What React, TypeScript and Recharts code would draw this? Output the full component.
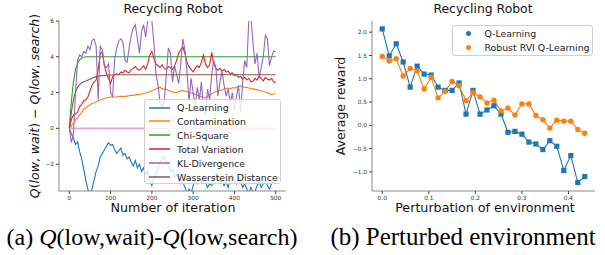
import { Line, LineChart, XAxis, YAxis } from "recharts";

// ---- (a) Q(low,wait) - Q(low,search) over iterations ----
const iterations = [
  0, 5, 10, 15, 20, 25, 30, 35, 40, 45,
  50, 55, 60, 65, 70, 75, 80, 85, 90, 95,
  100, 105, 110, 115, 120, 125, 130, 135, 140, 145,
  150, 155, 160, 165, 170, 175, 180, 185, 190, 195,
  200, 205, 210, 215, 220, 225, 230, 235, 240, 245,
  250, 255, 260, 265, 270, 275, 280, 285, 290, 295,
  300, 305, 310, 315, 320, 325, 330, 335, 340, 345,
  350, 355, 360, 365, 370, 375, 380, 385, 390, 395,
  400, 405, 410, 415, 420, 425, 430, 435, 440, 445,
  450, 455, 460, 465, 470, 475, 480, 485, 490, 495,
  500,
];

const qLearning = [
  0, -0.3, -0.55, -0.9, -0.75, -1.3, -1.7, -2.3, -2.9, -3.4,
  -3.7, -3.4, -2.9, -2.4, -2.1, -1.6, -1.4, -1.2, -1.0, -0.8,
  -0.95, -0.9, -1.2, -1.4, -1.25, -1.1, -1.5, -1.4, -1.7, -1.6,
  -1.9, -2.1, -1.8, -2.2, -2.0, -2.4, -2.2, -2.6, -2.4, -2.9,
  -3.2, -2.8, -2.5, -2.2, -1.9, -1.7, -1.6, -1.9, -2.1, -2.4,
  -2.3, -2.7, -2.6, -2.9, -3.1, -3.0, -3.3, -3.6, -3.4, -3.6,
  -3.2, -2.9, -3.1, -2.8, -3.0, -2.7, -3.0, -3.3, -3.1, -3.2,
  -2.9, -2.6, -2.8, -3.0, -2.9, -3.2, -3.0, -3.3, -2.8, -2.6,
  -2.9, -3.1, -2.7, -3.0, -3.3, -3.1, -3.4, -3.6, -3.3, -3.6,
  -3.5, -3.2, -3.0, -3.3, -3.1, -2.9, -3.2, -3.4, -3.1, -3.0,
  -3.1,
];

const contamination = [
  0, 0.15, 0.3, 0.45, 0.6, 0.75, 0.9, 1.1, 1.15, 1.25,
  1.3, 1.4, 1.42, 1.48, 1.55, 1.58, 1.62, 1.68, 1.7, 1.72,
  1.75, 1.76, 1.74, 1.77, 1.78, 1.8, 1.78, 1.79, 1.8, 1.83,
  1.85, 1.84, 1.87, 1.9, 1.88, 1.92, 1.95, 1.98, 2.0, 2.05,
  2.1, 2.15, 2.2, 2.25, 2.3, 2.22, 2.18, 2.2, 2.12, 2.08,
  2.05, 2.0, 2.02, 2.06, 2.1, 2.12, 2.08, 2.05, 2.0, 1.98,
  1.95, 1.9, 1.85, 1.8, 1.78, 1.72, 1.7, 1.78, 1.85, 1.95,
  2.0, 2.05, 2.1, 2.12, 2.15, 2.2, 2.22, 2.25, 2.2, 2.28,
  2.25, 2.3, 2.35, 2.38, 2.32, 2.28, 2.3, 2.25, 2.2, 2.22,
  2.18, 2.15, 2.12, 2.1, 2.05, 2.02, 2.0, 1.95, 1.88, 1.92,
  1.95,
];

const totalVariation = [
  0, 0.5, 0.75, 0.8, 0.9, 1.2, 1.35, 1.55, 1.6, 1.75,
  2.1, 2.4, 2.6, 2.7, 3.3, 4.2, 4.25, 3.5, 3.05, 2.8,
  2.5, 2.9, 3.0, 3.05, 3.0, 3.15, 3.1, 3.25, 3.15, 3.1,
  3.3, 3.35, 3.45, 3.3, 3.25, 3.35, 3.5, 3.3, 3.6, 4.1,
  4.3, 3.9, 3.6, 3.5, 3.4, 3.55, 3.35, 3.3, 3.45, 3.4,
  3.3, 3.5, 3.8, 4.2, 4.4, 4.55, 4.2, 3.7, 3.45, 3.3,
  3.15, 3.35, 3.5, 3.4, 3.7, 4.1, 3.6, 3.4, 3.55, 4.25,
  3.6, 3.35, 3.25, 3.35, 3.2, 3.3, 3.15, 3.2, 3.05, 3.1,
  2.95, 3.0, 2.85, 2.9, 2.75, 2.85, 2.7, 2.8, 2.6, 2.65,
  2.8, 2.7, 2.9, 2.8, 2.65, 2.85, 2.75, 2.7, 2.8, 2.6,
  2.55,
];

const klDivergence = [
  0, -0.8, -0.3, 2.0, 3.8, 4.1, 4.0, 4.3, 4.2, 4.6,
  4.4, 4.9, 5.0, 4.6, 1.6, 4.6, 4.4, 3.5, 3.4, 3.6,
  2.0, 1.8, 3.9, 4.5, 4.9, 5.0, 4.8, 3.8, 3.7, 4.5,
  5.2, 5.6, 5.8, 5.0, 4.2, 5.4, 5.8, 5.1, 6.0, 6.2,
  6.0, 4.8, 3.0, 2.4, 1.4, 1.2, 1.5, 3.0, 4.5, 4.2,
  2.6, 3.5, 3.0, 2.5, 3.6, 5.0, 4.4, 3.2, 1.5, 2.8,
  2.0, 1.2, 2.3, 1.6, 2.6, 1.0, 0.8, 2.2, 1.6, 3.0,
  3.8, 3.4, 1.8, 2.6, 3.2, 2.4, 1.8, 2.2, 1.4, 2.0,
  1.0, 1.8, 2.4, 0.9, 2.6, 3.8, 3.4, 6.2, 6.2, 4.8,
  3.6, 4.2, 2.8, 3.4, 4.0, 5.2, 5.0, 3.5, 4.0, 4.3,
  4.3,
];

// smooth curves, read at fewer iterations
const chiIterations = [0, 5, 10, 15, 20, 25, 30, 35, 40, 500];
const chiSquare = [0, 1.5, 2.6, 3.3, 3.65, 3.83, 3.92, 3.97, 4.0, 4.0];

const wassIterations = [0, 5, 10, 15, 20, 25, 30, 35, 40, 50, 60, 70, 80, 90, 100, 120, 500];
const wasserstein = [0, 0.9, 1.6, 2.05, 2.3, 2.45, 2.55, 2.6, 2.65, 2.75, 2.85, 2.92, 2.95, 2.97, 2.98, 3.0, 3.0];

const baselineIterations = [0, 500];
const baseline = [0, 0];

const iterTicks = [0, 100, 200, 300, 400, 500];
const diffTicks = [-2, 0, 2, 4, 6];

// ---- (b) perturbed environment ----
const perturbation = [
  0, 0.015, 0.03, 0.045, 0.06, 0.075, 0.09, 0.105, 0.12, 0.135,
  0.15, 0.165, 0.18, 0.195, 0.21, 0.225, 0.24, 0.255, 0.27, 0.285,
  0.3, 0.315, 0.33, 0.345, 0.36, 0.375, 0.39, 0.405, 0.42, 0.435,
];
const qReward = [
  2.07, 1.49, 1.75, 1.36, 0.82, 1.27, 1.1, 1.08, 0.82, 0.75,
  0.75, 0.91, 0.24, 0.75, 0.24, 0.33, 0.42, 0.24, -0.15, -0.13,
  -0.19, -0.36, -0.4, -0.52, -0.33, -0.45, -0.97, -0.65, -1.23, -1.1,
];
const robustReward = [
  1.48, 1.38, 1.43, 1.06, 1.22, 1.17, 0.78, 1.03, 0.59, 0.73,
  0.94, 0.85, 0.53, 0.7, 0.61, 0.48, 0.54, 0.31, 0.37, 0.22,
  0.46, 0.46, 0.21, 0.12, -0.06, 0.11, 0.09, 0.09, -0.09, -0.17,
];
const perturbTicks = [0, 0.1, 0.2, 0.3, 0.4];
const rewardTicks = [-1, -0.5, 0, 0.5, 1, 1.5, 2];

const FONT = "'DejaVu Sans', sans-serif";
const SERIF = "'Liberation Serif', serif";
const SPINE = "#8a8a8a";
const TICK_STYLE = { fontSize: 5.8, fill: "#333", fontFamily: FONT };

const toPoints = (xs: number[], ys: number[]) => xs.map((x, i) => ({ x, y: ys[i] }));

const leftSeries = [
  { name: "Q-Learning", color: "#1f77b4", data: toPoints(iterations, qLearning) },
  { name: "Contamination", color: "#ff7f0e", data: toPoints(iterations, contamination) },
  { name: "Chi-Square", color: "#2ca02c", data: toPoints(chiIterations, chiSquare) },
  { name: "Total Variation", color: "#d62728", data: toPoints(iterations, totalVariation) },
  { name: "KL-Divergence", color: "#9467bd", data: toPoints(iterations, klDivergence) },
  { name: "Wasserstein Distance", color: "#8c564b", data: toPoints(wassIterations, wasserstein) },
];

const rightSeries = [
  { name: "Q-Learning", color: "#1f77b4" },
  { name: "Robust RVI Q-Learning", color: "#ff7f0e" },
];

const rewardData = perturbation.map((p, i) => ({ p, q: qReward[i], robust: robustReward[i] }));

const minus = (s: string) => s.replace("-", "\u2212");

function SquareDot(props: { cx?: number; cy?: number; index?: number }) {
  const { cx, cy, index } = props;
  if (cx == null || cy == null) return null;
  return <rect key={`sq-${index}`} x={cx - 2.6} y={cy - 2.6} width={5.2} height={5.2} fill="#1f77b4" />;
}

function RoundDot(props: { cx?: number; cy?: number; index?: number }) {
  const { cx, cy, index } = props;
  if (cx == null || cy == null) return null;
  return <circle key={`ci-${index}`} cx={cx} cy={cy} r={2.7} fill="#ff7f0e" />;
}

// full matplotlib-style box: extra top / right axes with only a spine
function BoxAxes() {
  return [
    <XAxis key="top" xAxisId="top" orientation="top" type="number" domain={[0, 1]} height={0}
      tick={false} tickLine={false} axisLine={{ stroke: SPINE }} />,
    <YAxis key="right" yAxisId="right" orientation="right" type="number" domain={[0, 1]} width={0}
      tick={false} tickLine={false} axisLine={{ stroke: SPINE }} />,
  ];
}

const textStyle = (extra: object) => ({
  position: "absolute" as const,
  fontFamily: FONT,
  color: "#111",
  whiteSpace: "nowrap" as const,
  lineHeight: 1,
  ...extra,
});

const legendBox = {
  position: "absolute" as const,
  background: "rgba(255,255,255,0.8)",
  border: "1px solid #d0d0d0",
  borderRadius: 3,
  boxSizing: "border-box" as const,
};

export default function App() {
  return (
    <div style={{ position: "absolute", left: 0, top: 0, width: 605, height: 255, background: "#fff", overflow: "hidden" }}>
      {/* left panel */}
      <div style={{ position: "absolute", left: 0, top: 0 }}>
        <LineChart width={300} height={220} margin={{ top: 21, right: 14, bottom: 0, left: 0 }}>
          <XAxis dataKey="x" type="number" domain={[-25, 525]} ticks={iterTicks} allowDataOverflow
            height={29} tickSize={3} tickMargin={2} tick={TICK_STYLE}
            axisLine={{ stroke: SPINE }} tickLine={{ stroke: "#444" }} />
          <YAxis type="number" domain={[-3.5, 6]} ticks={diffTicks} allowDataOverflow width={59}
            tickSize={3} tickMargin={2} tick={TICK_STYLE} tickFormatter={(v: number) => minus(String(v))}
            axisLine={{ stroke: SPINE }} tickLine={{ stroke: "#444" }} />
          {BoxAxes()}
          {leftSeries.map((s) => (
            <Line key={s.name} data={s.data} dataKey="y" type="linear" stroke={s.color} strokeWidth={1.1}
              dot={false} isAnimationActive={false} />
          ))}
          <Line data={toPoints(baselineIterations, baseline)} dataKey="y" type="linear" stroke="#e377c2"
            strokeOpacity={0.7} strokeWidth={1.6} dot={false} isAnimationActive={false} />
        </LineChart>
      </div>

      <div style={textStyle({ left: 173, top: 3, fontSize: 12.4, transform: "translateX(-50%)" })}>Recycling Robot</div>
      <div style={textStyle({ left: 173, top: 202, fontSize: 12.7, transform: "translateX(-50%)" })}>Number of iteration</div>
      <div style={textStyle({ left: 35, top: 106, fontSize: 12.5, transform: "translate(-50%, -50%) rotate(-90deg)" })}>
        <i>Q</i>(<i>low</i>, <i>wait</i>) − <i>Q</i>(<i>low</i>, <i>search</i>)
      </div>

      <div style={{ ...legendBox, left: 144, top: 99, width: 137, height: 85 }}>
        {leftSeries.map((s, i) => (
          <div key={s.name} style={{ position: "absolute", left: 0, top: 1 + i * 13.9, height: 13, display: "flex", alignItems: "center" }}>
            <svg width={21} height={4} style={{ marginLeft: 4, flexShrink: 0, display: "block" }}>
              <line x1={0} y1={2} x2={21} y2={2} stroke={s.color} strokeWidth={1.5} />
            </svg>
            <span style={{ marginLeft: 7, fontFamily: FONT, fontSize: 9.4, color: "#222" }}>{s.name}</span>
          </div>
        ))}
      </div>

      {/* right panel */}
      <div style={{ position: "absolute", left: 300, top: 0 }}>
        <LineChart width={305} height={220} data={rewardData} margin={{ top: 21, right: 10, bottom: 0, left: 0 }}>
          <XAxis dataKey="p" type="number" domain={[-0.022, 0.457]} ticks={perturbTicks} allowDataOverflow
            height={29} tickSize={3} tickMargin={2} tick={TICK_STYLE} tickFormatter={(v: number) => v.toFixed(1)}
            axisLine={{ stroke: SPINE }} tickLine={{ stroke: "#444" }} />
          <YAxis type="number" domain={[-1.41, 2.24]} ticks={rewardTicks} allowDataOverflow width={72}
            tickSize={3} tickMargin={2} tick={TICK_STYLE} tickFormatter={(v: number) => minus(v.toFixed(1))}
            axisLine={{ stroke: SPINE }} tickLine={{ stroke: "#444" }} />
          {BoxAxes()}
          <Line dataKey="q" type="linear" stroke="#1f77b4" strokeWidth={1.1} dot={<SquareDot />} isAnimationActive={false} />
          <Line dataKey="robust" type="linear" stroke="#ff7f0e" strokeWidth={1.1} dot={<RoundDot />} isAnimationActive={false} />
        </LineChart>
      </div>

      <div style={textStyle({ left: 483, top: 3, fontSize: 12.4, transform: "translateX(-50%)" })}>Recycling Robot</div>
      <div style={textStyle({ left: 485, top: 202, fontSize: 12.7, transform: "translateX(-50%)" })}>Perturbation of environment</div>
      <div style={textStyle({ left: 341, top: 106, fontSize: 12.5, transform: "translate(-50%, -50%) rotate(-90deg)" })}>Average reward</div>

      <div style={{ ...legendBox, left: 452, top: 25, width: 141, height: 31 }}>
        {rightSeries.map((s, i) => (
          <div key={s.name} style={{ position: "absolute", left: 0, top: 1 + i * 14, height: 13, display: "flex", alignItems: "center" }}>
            <div style={{ marginLeft: 13, width: 5.4, height: 5.4, flexShrink: 0, borderRadius: "50%", background: s.color }} />
            <span style={{ marginLeft: 13, fontFamily: FONT, fontSize: 9.4, color: "#222" }}>{s.name}</span>
          </div>
        ))}
      </div>

      {/* captions */}
      <div style={textStyle({ left: 152, top: 225, fontSize: 24, fontFamily: SERIF, color: "#000", transform: "translateX(-50%)" })}>
        (a) <i>Q</i>(low,wait)-<i>Q</i>(low,search)
      </div>
      <div style={textStyle({ left: 463, top: 224, fontSize: 25, fontFamily: SERIF, color: "#000", transform: "translateX(-50%)" })}>
        (b) Perturbed environment
      </div>
    </div>
  );
}
